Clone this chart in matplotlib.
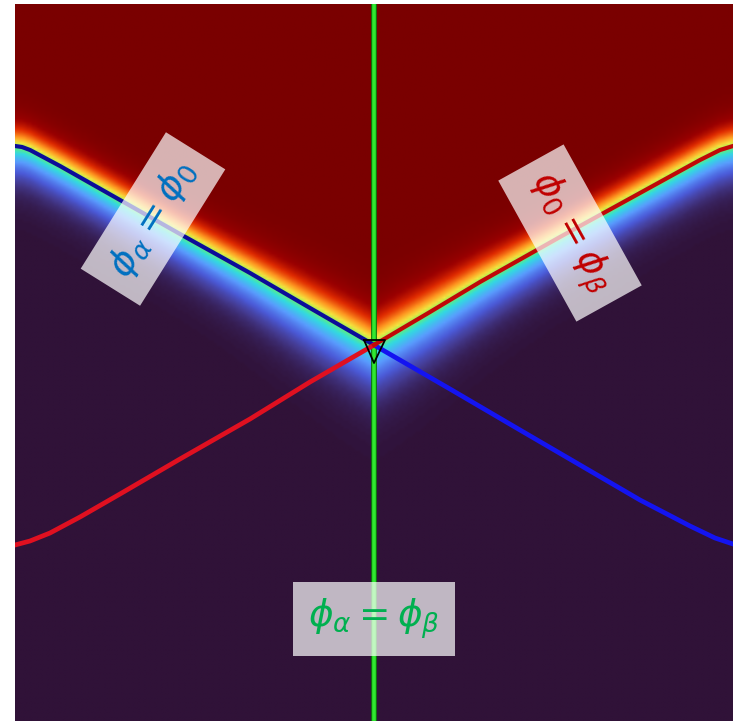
import numpy as np
import matplotlib
matplotlib.use("Agg")
import matplotlib.pyplot as plt
from matplotlib.colors import LinearSegmentedColormap

# ---- geometry (plot pixels: x 15..733, y 4..721 -> unit square) ----
def px(xp):
    return (np.asarray(xp, float) - 15.0) / 718.0

def py(yp):
    return (721.0 - np.asarray(yp, float)) / 717.0

# phi_alpha = phi_0 interface (blue)
blue_x = px([15, 22, 30, 60, 120, 180, 250, 310, 374,
             450, 520, 580, 640, 690, 715, 733])
blue_y = py([146, 147, 150, 166, 200, 234, 273, 308, 345,
             389, 430, 465, 500, 526, 538, 544])

# phi_0 = phi_beta interface (red)
red_x = px([15, 30, 50, 80, 120, 180, 250, 310, 374,
            430, 480, 560, 640, 700, 720, 733])
red_y = py([545, 541, 533, 517, 494, 459, 419, 382, 345,
            312, 282, 237, 193, 160, 150, 146])

# phi_alpha = phi_beta interface (green, vertical)
green_x = px([374, 374])
green_y = py([721, 4])

# triple-junction marker
tri_x = px([364, 385, 374, 364])
tri_y = py([340, 340, 363, 340])

labels = [r"$\phi_\alpha = \phi_0$", r"$\phi_0 = \phi_\beta$", r"$\phi_\alpha = \phi_\beta$"]
label_pos = [(px(153), py(219)), (px(570), py(233)), (px(374), py(619))]
label_rot = [58, -61, 0]
label_col = ["#0070c0", "#c00000", "#00b050"]

# ---- phase field: phi_0 is high above the V formed by the two interfaces ----
n = 260
gx = np.linspace(0, 1, n)
gy = np.linspace(0, 1, n)
X, Y = np.meshgrid(gx, gy)
vb = np.interp(gx, blue_x, blue_y)
vr = np.interp(gx, red_x, red_y)
V = np.maximum(vb, vr)[None, :]
d = (Y - V) * 717.0  # vertical offset in pixels
cx, cy = px(374), py(345)
near = np.exp(-((X - cx) * 718) ** 2 / (2 * 90 ** 2))
w_up = 22.0 + 8.0 * near
w_dn = 30.0 + 12.0 * near
w = np.where(d > 0, w_up, w_dn)
field = 0.5 * (1 + np.tanh(d / w))

cmap = LinearSegmentedColormap.from_list("phase", [
    (0.00, "#301238"),
    (0.03, "#372058"),
    (0.08, "#453c94"),
    (0.15, "#4b5ad8"),
    (0.27, "#5a9cff"),
    (0.40, "#30dce0"),
    (0.50, "#70f060"),
    (0.60, "#f4e840"),
    (0.72, "#ff9420"),
    (0.84, "#e02a00"),
    (0.93, "#9a0000"),
    (1.00, "#7a0000"),
])

fig = plt.figure(figsize=(7.37, 7.23), dpi=100)
ax = fig.add_axes([15 / 737, 2 / 723, 718 / 737, 717 / 723])
ax.imshow(field, cmap=cmap, vmin=0, vmax=1, origin="lower", extent=[0, 1, 0, 1],
          aspect="auto", interpolation="bilinear")

# interfaces
ax.plot(green_x, green_y, color="#0a7a0a", lw=4.2, solid_capstyle="butt")
ax.plot(green_x, green_y, color="#30e830", lw=2.6, solid_capstyle="butt")

left_b = blue_x <= cx + 1e-9
right_b = blue_x >= cx - 1e-9
left_r = red_x <= cx + 1e-9
right_r = red_x >= cx - 1e-9
ax.plot(blue_x[left_b], blue_y[left_b], color="#0c0c9a", lw=3.0)
ax.plot(blue_x[right_b], blue_y[right_b], color="#1414f0", lw=3.4)
ax.plot(red_x[left_r], red_y[left_r], color="#e01020", lw=3.4)
ax.plot(red_x[right_r], red_y[right_r], color="#c00808", lw=3.0)

ax.plot(tri_x, tri_y, color="black", lw=1.3)

for txt, (tx, ty), rot, col in zip(labels, label_pos, label_rot, label_col):
    ax.text(tx, ty, txt, color=col, fontsize=27, rotation=rot, rotation_mode="anchor",
            ha="center", va="center",
            bbox=dict(boxstyle="square,pad=0.4", fc="white", ec="none", alpha=0.7))

ax.set_xlim(0, 1)
ax.set_ylim(0, 1)
ax.axis("off")
fig.savefig("out.png", dpi=100)
